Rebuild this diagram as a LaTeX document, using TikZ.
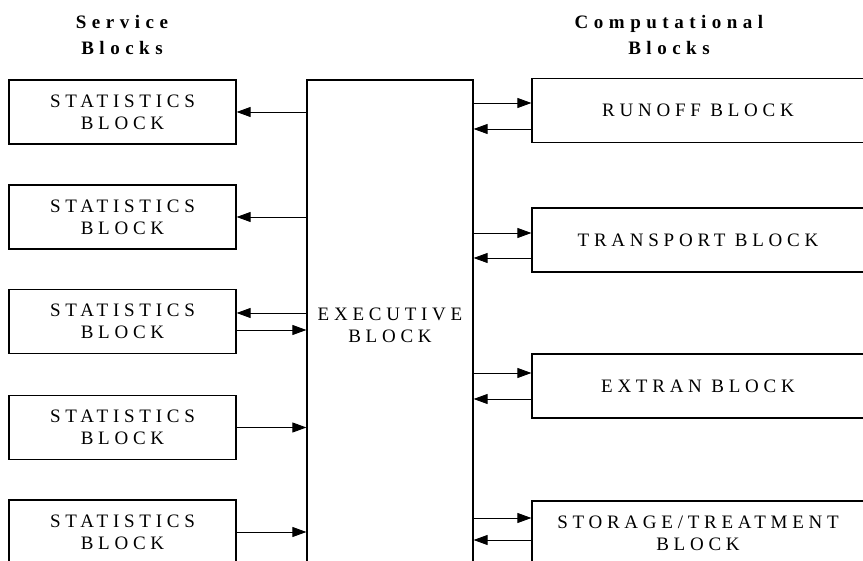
\documentclass[tikz,border=0pt]{standalone}
\usepackage{fontspec}
\setmainfont{Liberation Serif}
\newfontfamily\spacedfont[LetterSpace=25]{Liberation Serif}
\newfontfamily\headfont[LetterSpace=29]{Liberation Serif}
\usetikzlibrary{arrows.meta,positioning}
\tikzset{
  figure/.style={x=1pt,y=-1pt,font=\spacedfont\fontsize{19}{22}\selectfont,
    >={Triangle[length=14pt,width=10pt]}},
  svcblock/.style={draw,line width=1.2pt,minimum width=227pt,minimum height=64pt,
    inner sep=0pt,align=center},
  compblock/.style={draw,line width=1.2pt,minimum width=332pt,minimum height=64pt,
    inner sep=0pt,align=center,text depth=-4pt},
  heading/.style={font=\headfont\bfseries\fontsize{19}{26}\selectfont,align=center},
  flow/.style={->,line width=0.9pt},
}
\begin{document}
\begin{tikzpicture}[figure]
  \useasboundingbox (0,0) rectangle (863,561);
  \clip (0,0) rectangle (863,561);

  % column headings
  \node[heading] (svchead) at (122,35) {Service\\Blocks};
  \node[heading] (comphead) at (669,35) {Computational\\Blocks};

  % service blocks
  \node[svcblock] (s1) at (122.5,112) {STATISTICS\\BLOCK};
  \node[svcblock] (s2) at (122.5,217) {STATISTICS\\BLOCK};
  \node[svcblock] (s3) at (122.5,321.5) {STATISTICS\\BLOCK};
  \node[svcblock] (s4) at (122.5,427.5) {STATISTICS\\BLOCK};
  \node[svcblock] (s5) at (122.5,532) {STATISTICS\\BLOCK};

  % executive block
  \node[draw,line width=1.2pt,minimum width=166pt,minimum height=490pt,
        inner sep=0pt,align=center] (exec) at (390,325) {EXECUTIVE\\BLOCK};

  % computational blocks
  \node[compblock] (r1) at (698,110.5) {RUNOFF BLOCK};
  \node[compblock] (r2) at (698,240) {TRANSPORT BLOCK};
  \node[compblock] (r3) at (698,386) {EXTRAN BLOCK};
  \node[compblock] (r4) at (698,533) {STORAGE/TREATMENT\\BLOCK};

  \coordinate (s3out) at ([yshift=8.5pt]s3.east);
  \coordinate (s3in) at ([yshift=-8.5pt]s3.east);
  \coordinate (r1out) at ([yshift=7.5pt]r1.west);
  \coordinate (r1in) at ([yshift=-18.5pt]r1.west);
  \coordinate (r2out) at ([yshift=7pt]r2.west);
  \coordinate (r2in) at ([yshift=-18pt]r2.west);
  \coordinate (r3out) at ([yshift=13pt]r3.west);
  \coordinate (r3in) at ([yshift=-13pt]r3.west);
  \coordinate (r4out) at ([yshift=15pt]r4.west);
  \coordinate (r4in) at ([yshift=-7pt]r4.west);

  % links to the service blocks
  \draw[flow] (exec.west |- s1.east) -- (s1.east);
  \draw[flow] (exec.west |- s2.east) -- (s2.east);
  \draw[flow] (exec.west |- s3out) -- (s3out);
  \draw[flow] (s3in) -- (exec.west |- s3in);
  \draw[flow] (s4.east) -- (exec.west |- s4.east);
  \draw[flow] (s5.east) -- (exec.west |- s5.east);

  % links to the computational blocks
  \draw[flow] (exec.east |- r1out) -- (r1out);
  \draw[flow] (r1in) -- (exec.east |- r1in);
  \draw[flow] (exec.east |- r2out) -- (r2out);
  \draw[flow] (r2in) -- (exec.east |- r2in);
  \draw[flow] (exec.east |- r3out) -- (r3out);
  \draw[flow] (r3in) -- (exec.east |- r3in);
  \draw[flow] (exec.east |- r4out) -- (r4out);
  \draw[flow] (r4in) -- (exec.east |- r4in);
\end{tikzpicture}
\end{document}
